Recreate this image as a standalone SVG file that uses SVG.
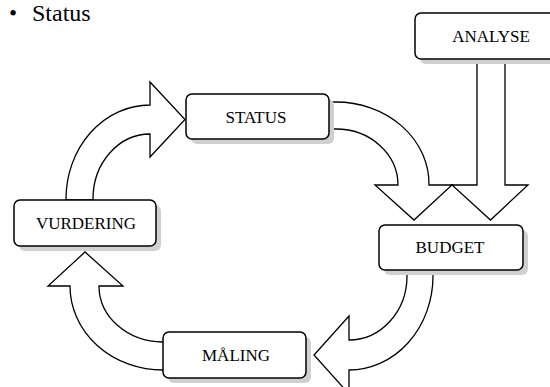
<svg xmlns="http://www.w3.org/2000/svg" width="550" height="387" viewBox="0 0 550 387">
<style>
.arrow{fill:#fff;stroke:#000;stroke-width:1.3;stroke-linejoin:miter}
.box{fill:#fff;stroke:#000;stroke-width:1.5}
.shadow{fill:#d0d0d0}
.label{font-size:17px;text-anchor:middle;fill:#000}
</style>
<rect width="550" height="387" fill="#fff"/>
<text font-family="'Liberation Serif', 'Times New Roman', serif" font-size="23" x="9" y="21">•</text>
<text font-family="'Liberation Serif', 'Times New Roman', serif" font-size="24" x="32" y="21">Status</text>
<g id="connectors">
<path class="arrow" d="M 66 200 L 66 199 A 84 94 0 0 1 150 105 L 150 82 L 185 119.5 L 150 157 L 150 134 A 57 65 0 0 0 93 199 L 93 200 Z"/>
<path class="arrow" d="M 331 102 L 336 102 A 93 82 0 0 1 429 185 L 452 185 L 414 220 L 375 185 L 398 185 A 62 56 0 0 0 336 129 L 331 129 Z"/>
<path class="arrow" d="M 477 60 L 477 185 L 452 185 L 490.5 220 L 528 185 L 505 185 L 505 60 Z"/>
<path class="arrow" d="M 407 271 L 407 276 A 58 64 0 0 1 349 340 L 349 316 L 314 355 L 349 394 L 349 370 A 84 94 0 0 0 433 276 L 433 271 Z"/>
<path class="arrow" d="M 168 342 L 163 342 A 64 56 0 0 1 99 286 L 123 286 L 85 252 L 48 286 L 70 286 A 93 84 0 0 0 163 370 L 168 370 Z"/>
</g>
<g id="node-status">
<rect class="shadow" x="191" y="99" width="143" height="45" rx="6"/>
<rect class="box" x="186" y="94" width="143" height="45" rx="6"/>
<text class="label" font-family="'Liberation Serif', 'Times New Roman', serif" x="256" y="123">STATUS</text>
</g>
<g id="node-analyse">
<rect class="shadow" x="420" y="18" width="143" height="46" rx="6"/>
<rect class="box" x="415" y="13" width="143" height="46" rx="6"/>
<text class="label" font-family="'Liberation Serif', 'Times New Roman', serif" x="491" y="42">ANALYSE</text>
</g>
<g id="node-vurdering">
<rect class="shadow" x="19" y="205" width="142" height="46" rx="6"/>
<rect class="box" x="14" y="200" width="142" height="46" rx="6"/>
<text class="label" font-family="'Liberation Serif', 'Times New Roman', serif" x="86" y="229">VURDERING</text>
</g>
<g id="node-budget">
<rect class="shadow" x="384" y="230" width="144" height="45" rx="6"/>
<rect class="box" x="379" y="225" width="144" height="45" rx="6"/>
<text class="label" font-family="'Liberation Serif', 'Times New Roman', serif" x="450" y="253">BUDGET</text>
</g>
<g id="node-maling">
<rect class="shadow" x="168" y="337" width="143" height="46" rx="6"/>
<rect class="box" x="163" y="332" width="143" height="46" rx="6"/>
<text class="label" font-family="'Liberation Serif', 'Times New Roman', serif" x="236" y="361">MÅLING</text>
</g>
</svg>
